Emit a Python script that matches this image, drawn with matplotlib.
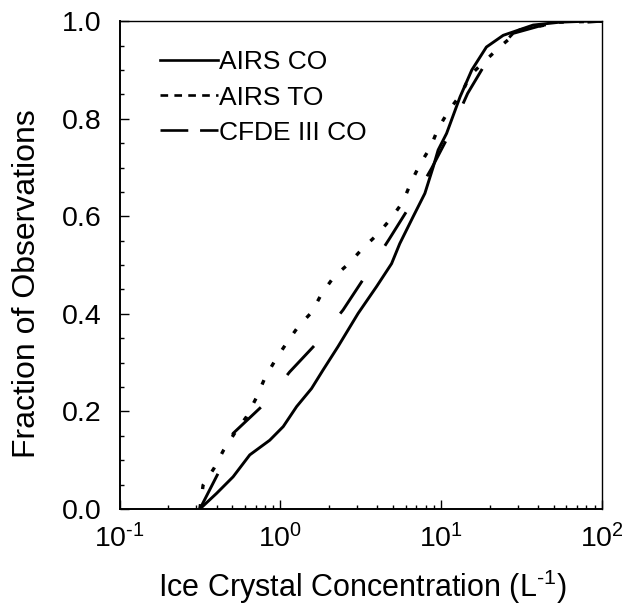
import matplotlib
matplotlib.use("Agg")
import matplotlib.pyplot as plt
from matplotlib.lines import Line2D
from matplotlib.ticker import MultipleLocator, LogLocator, FuncFormatter
import numpy as np

plt.rcParams['font.family'] = ['Liberation Sans', 'DejaVu Sans']
plt.rcParams['mathtext.fontset'] = 'custom'
plt.rcParams['mathtext.rm'] = 'Liberation Sans'
plt.rcParams['mathtext.it'] = 'Liberation Sans:italic'
plt.rcParams['mathtext.default'] = 'regular'
plt.rcParams['axes.unicode_minus'] = False
plt.rcParams['lines.scale_dashes'] = False

HYPHEN = "\u2010"

# ice crystal concentration (L^-1) vs cumulative fraction of observations
conc_airs_co = [0.315, 0.400, 0.507, 0.644, 0.857, 1.04, 1.26, 1.56, 1.84, 2.28, 3.04, 3.96,
                4.91, 5.52, 6.68, 7.91, 8.91, 9.57, 10.8, 13.1, 15.5, 19.1, 24.3, 37.3,
                54.7, 80.2, 100]
frac_airs_co = [0.0, 0.032, 0.066, 0.111, 0.141, 0.169, 0.210, 0.247, 0.285, 0.333, 0.401, 0.456,
                0.503, 0.544, 0.599, 0.647, 0.701, 0.736, 0.770, 0.845, 0.900, 0.947, 0.971, 0.992,
                0.998, 1.0, 1.0]

conc_airs_to = [0.315, 0.330, 0.385, 0.443, 0.520, 0.614, 0.710, 0.798, 0.923, 1.09, 1.29, 1.57,
                1.80, 2.15, 2.66, 3.24, 4.01, 4.83, 5.79, 6.47, 7.36, 8.58, 9.57, 11.2,
                13.4, 15.1, 22.9, 30.8, 54.7, 100]
frac_airs_to = [0.0, 0.049, 0.083, 0.121, 0.156, 0.189, 0.229, 0.268, 0.304, 0.340, 0.374, 0.404,
                0.441, 0.476, 0.503, 0.534, 0.563, 0.594, 0.630, 0.669, 0.706, 0.742, 0.780, 0.818,
                0.852, 0.889, 0.946, 0.982, 0.998, 1.0]

conc_cfde = [0.315, 0.409, 0.507, 0.780, 1.14, 1.69, 2.45, 3.35, 4.74, 6.38, 8.70, 11.3,
             14.6, 19.3, 28.0, 42.9, 100]
frac_cfde = [0.0, 0.073, 0.155, 0.213, 0.281, 0.341, 0.408, 0.476, 0.553, 0.621, 0.698, 0.770,
             0.852, 0.919, 0.975, 0.992, 1.0]

labels = ["AIRS CO", "AIRS TO", "CFDE III CO"]


def pow10(v, pos):
    e = int(round(np.log10(v)))
    s = str(e).replace("-", HYPHEN)
    return "$10^{%s}$" % s


fig = plt.figure(figsize=(6.37, 6.07), dpi=100)
ax = fig.add_axes([0.188, 0.1614, 0.757, 0.8037])

ax.plot(conc_airs_co, frac_airs_co, color='k', lw=2.1)
ax.plot(conc_airs_to, frac_airs_to, color='k', lw=2.4, dashes=(3.5, 11))
ax.plot(conc_cfde, frac_cfde, color='k', lw=2.1, dashes=(28.5, 30))

ax.set_xscale('log')
ax.set_xlim(0.1, 100)
ax.set_ylim(0.0, 1.0)
ax.xaxis.set_major_locator(LogLocator(base=10, numticks=10))
ax.xaxis.set_minor_locator(LogLocator(base=10, subs=range(2, 10), numticks=10))
ax.xaxis.set_major_formatter(FuncFormatter(pow10))
ax.yaxis.set_major_locator(MultipleLocator(0.2))
ax.yaxis.set_minor_locator(MultipleLocator(0.05))
ax.set_yticklabels(["%.1f" % v for v in ax.get_yticks()])

ax.tick_params(which='both', direction='in', top=False, right=False, width=1.0)
ax.tick_params(which='major', length=6.5)
ax.tick_params(which='minor', length=3)
ax.tick_params(axis='y', labelsize=20.5, pad=13)
ax.tick_params(axis='x', labelsize=20.5, pad=11)
for s in ax.spines.values():
    s.set_linewidth(1.0)
ax.spines['left'].set_linewidth(1.4)
ax.spines['bottom'].set_linewidth(1.4)

ax.set_xlabel("Ice Crystal Concentration (L$^{%s1}$)" % HYPHEN, fontsize=22, va='center')
ax.xaxis.set_label_coords(0.503, -0.160)
ax.set_ylabel("Fraction of Observations", fontsize=23, va='center')
ax.yaxis.set_label_coords(-0.193, 0.463)

# legend handles drawn with the shorter patterns seen in the key
handles = [Line2D([], [], color='k', lw=1.9),
           Line2D([], [], color='k', lw=1.9, dashes=(5.5, 4.5)),
           Line2D([], [], color='k', lw=1.9, dashes=(20, 8.5))]
ax.legend(handles, labels, loc='upper left', bbox_to_anchor=(0.083, 0.94), frameon=False,
          fontsize=19, borderpad=0, borderaxespad=0, handlelength=2.2, handletextpad=0.05,
          labelspacing=0.42)

fig.savefig("out.png", dpi=100)
